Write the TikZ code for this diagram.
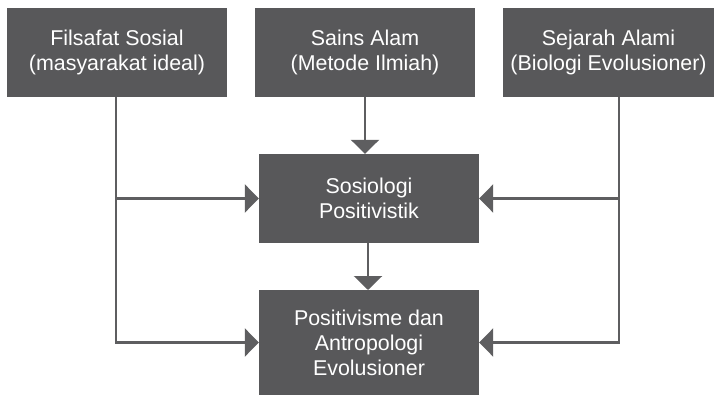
\documentclass[tikz,border=0pt]{standalone}
\usepackage{fontspec}
\setmainfont{Liberation Sans}
\usetikzlibrary{arrows.meta}
\definecolor{boxgray}{HTML}{58585A}
\definecolor{linegray}{HTML}{5E5E60}
\begin{document}
\begin{tikzpicture}[x=1pt,y=-1pt,
  box/.style={draw=none, fill=boxgray, text=white, inner sep=0pt,
    align=center, font=\fontsize{21.4}{25}\selectfont},
  conn/.style={draw=linegray, line width=2.4pt,
    -{Triangle[length=14pt,width=28pt]}}]
\useasboundingbox (0,0) rectangle (714,395);

% source boxes
\node[box, minimum width=220pt, minimum height=89pt] (fs) at (117,52.5)
  {Filsafat Sosial\\(masyarakat ideal)};
\node[box, minimum width=220pt, minimum height=89pt] (sa) at (365,52.5)
  {Sains Alam\\(Metode Ilmiah)};
\node[box, minimum width=211pt, minimum height=89pt] (sj) at (608.5,52.5)
  {Sejarah Alami\\(Biologi Evolusioner)};

% result boxes
\node[box, minimum width=220pt, minimum height=89pt] (sp) at (369,198.5)
  {Sosiologi\\Positivistik};
\node[box, minimum width=220pt, minimum height=105pt] (pa) at (369,342.5)
  {Positivisme dan\\Antropologi\\Evolusioner};

% connectors from the left source
\coordinate (lt) at (116,97);
\draw[conn] (lt) |- (pa.west);
\draw[conn] (lt |- sp.west) -- (sp.west);

% connectors from the right source
\coordinate (rt) at (619,97);
\draw[conn] (rt) |- (pa.east);
\draw[conn] (rt |- sp.east) -- (sp.east);

% vertical connectors in the middle column
\draw[conn] (sa.south) -- (sa.south |- sp.north);
\draw[conn] (368,243) -- (368,290);
\end{tikzpicture}
\end{document}
